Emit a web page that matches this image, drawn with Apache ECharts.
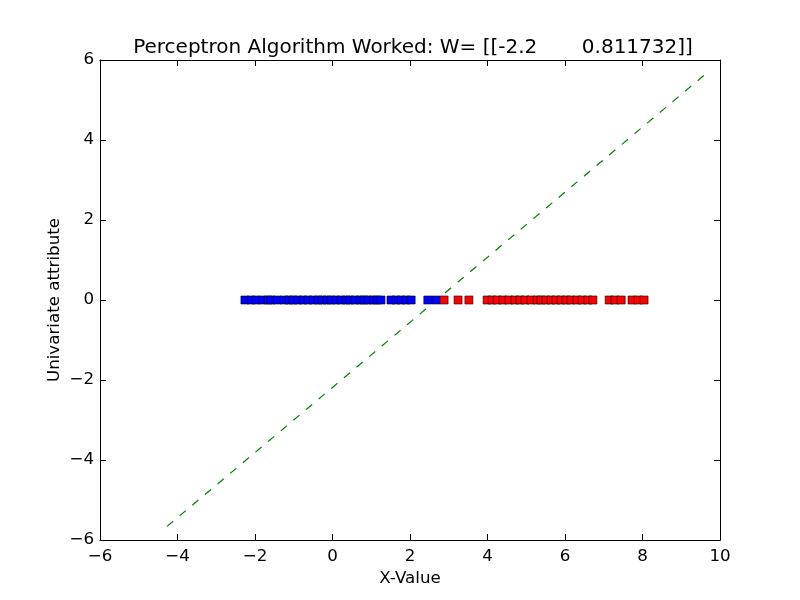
<!DOCTYPE html>
<html lang="en">
<head>
    <meta charset="UTF-8">
    <title>Perceptron</title>
    <script src="https://cdn.jsdelivr.net/npm/echarts@6/dist/echarts.min.js"></script>
    <style>
        html, body { margin: 0; padding: 0; background: #fff; }
        #main { width: 800px; height: 600px; }
    </style>
</head>
<body>
    <div id="main"></div>
    <script>
        // class -1 points (blue), all at y = 0
        var blueX = [-2.26, -2.10, -1.97, -1.81, -1.66, -1.59, -1.43, -1.25, -1.12, -1.02,
            -0.89, -0.76, -0.63, -0.50, -0.37, -0.27, -0.14, -0.04, 0.09, 0.22,
            0.35, 0.45, 0.58, 0.71, 0.81, 0.92, 1.05, 1.15, 1.25, 1.51,
            1.64, 1.77, 1.90, 2.03, 2.46, 2.67];
        // class +1 points (red)
        var redX = [2.88, 3.24, 3.52, 3.99, 4.12, 4.25, 4.40, 4.55, 4.71, 4.84,
            4.97, 5.12, 5.28, 5.38, 5.51, 5.64, 5.77, 5.90, 6.03, 6.15,
            6.31, 6.44, 6.59, 6.72, 7.14, 7.29, 7.45, 7.73, 7.89, 8.04];
        // decision line end points
        var lineX = [-4.27, 9.74];
        var lineY = [-5.66, 5.74];

        var xTicks = { min: -6, max: 10, interval: 2 };
        var yTicks = { min: -6, max: 6, interval: 2 };

        function toPts(xs) {
            var out = [];
            for (var i = 0; i < xs.length; i++) out.push([xs[i], 0]);
            return out;
        }
        var linePts = [];
        for (var i = 0; i < lineX.length; i++) linePts.push([lineX[i], lineY[i]]);

        function minus(v) { return String(v).replace('-', '\u2212'); }

        var font = 'DejaVu Sans';
        var axisCommon = {
            type: 'value',
            splitLine: { show: false },
            axisLine: { show: true, onZero: false, lineStyle: { color: '#000', width: 1 } },
            axisTick: { show: true, inside: true, length: 6, lineStyle: { color: '#000' } }
        };

        var myChart = echarts.init(document.getElementById('main'));
        var option = {
            animation: false,
            backgroundColor: '#fff',
            title: {
                text: 'Perceptron Algorithm Worked: W= [[-2.2       0.811732]]',
                left: 408,
                top: 33,
                textAlign: 'center',
                textStyle: { fontFamily: font, fontSize: 20, fontWeight: 'normal', color: '#000' }
            },
            grid: { left: 100, right: 80, top: 60, bottom: 60 },
            xAxis: [
                Object.assign({}, axisCommon, {
                    min: xTicks.min, max: xTicks.max, interval: xTicks.interval,
                    position: 'bottom',
                    name: 'X-Value', nameLocation: 'middle', nameGap: 30,
                    nameMoveOverlap: false,
                    nameTextStyle: { fontFamily: font, fontSize: 16.7, color: '#000' },
                    axisLabel: { margin: 8, fontFamily: font, fontSize: 16.7, color: '#000', formatter: minus }
                }),
                Object.assign({}, axisCommon, {
                    min: xTicks.min, max: xTicks.max, interval: xTicks.interval,
                    position: 'top',
                    axisLabel: { show: false }
                })
            ],
            yAxis: [
                Object.assign({}, axisCommon, {
                    min: yTicks.min, max: yTicks.max, interval: yTicks.interval,
                    position: 'left',
                    name: 'Univariate attribute', nameLocation: 'middle', nameGap: 45,
                    nameMoveOverlap: false,
                    nameTextStyle: { fontFamily: font, fontSize: 16.7, color: '#000', verticalAlign: 'middle' },
                    axisLabel: { margin: 6, fontFamily: font, fontSize: 16.7, color: '#000', formatter: minus }
                }),
                Object.assign({}, axisCommon, {
                    min: yTicks.min, max: yTicks.max, interval: yTicks.interval,
                    position: 'right',
                    axisLabel: { show: false }
                })
            ],
            series: [{
                type: 'scatter',
                symbol: 'rect',
                symbolSize: 8,
                itemStyle: { color: '#0000ff', borderColor: '#000', borderWidth: 0.6, opacity: 1 },
                data: toPts(blueX),
                z: 3
            }, {
                type: 'scatter',
                symbol: 'rect',
                symbolSize: 8,
                itemStyle: { color: '#ff0000', borderColor: '#000', borderWidth: 0.6, opacity: 1 },
                data: toPts(redX),
                z: 3
            }, {
                type: 'line',
                data: linePts,
                symbol: 'none',
                lineStyle: { color: '#008000', width: 1.2, type: [8, 8.5] },
                z: 2
            }]
        };
        myChart.setOption(option);
    </script>
</body>
</html>
